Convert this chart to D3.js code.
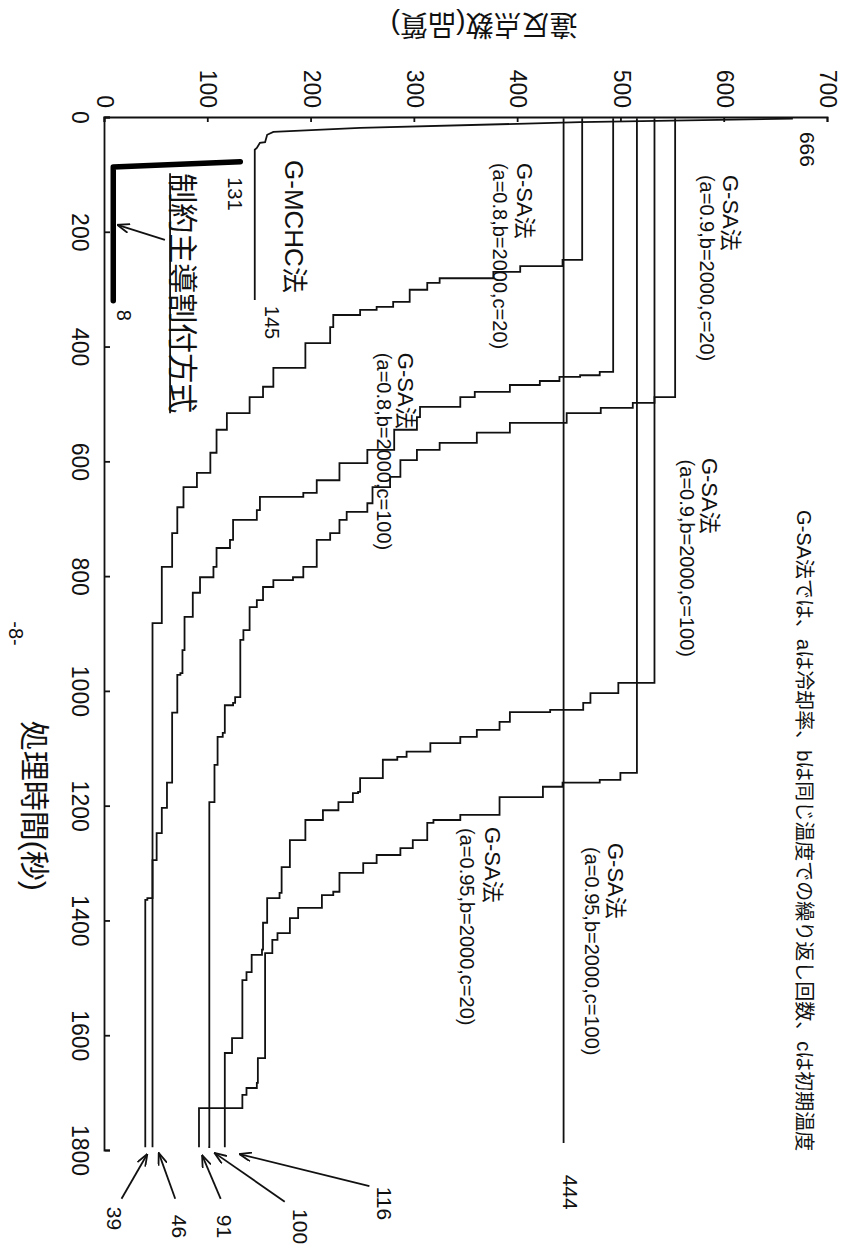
<!DOCTYPE html>
<html>
<head>
<meta charset="utf-8">
<script src="https://cdn.jsdelivr.net/npm/d3@7"></script>
<style>
  body { margin: 0; background: #fff; }
  svg { display: block; }
  text { font-family: "Liberation Sans", "Noto Sans CJK JP", sans-serif; fill: #111; }
</style>
</head>
<body>
<div id="graph"></div>
<script>
// tick labels
const timeTicks = [0, 200, 400, 600, 800, 1000, 1200, 1400, 1600, 1800];
const violationTicks = [0, 100, 200, 300, 400, 500, 600, 700];

// series: [time (s), violations] — value holds until the next point
const gmchc = [[3, 666], [9, 460], [19, 247], [26, 163], [31, 157], [44, 155], [45, 150], [54, 147], [57, 145], [319, 145]];
const constraintLed = [[78, 131], [87, 8], [320, 8]];
const sa08c20 = [[2, 462], [249, 443], [260, 402], [270, 376], [281, 324], [289, 312], [301, 295], [322, 279], [331, 263],
  [336, 247], [345, 221], [366, 218], [394, 194], [437, 163], [470, 153], [488, 140], [516, 118], [545, 108], [585, 102],
  [620, 89], [645, 76], [680, 70], [725, 65], [784, 55], [882, 46], [1795, 46]];
const sa08c100 = [[2, 492], [444, 479], [450, 460], [453, 440], [460, 421], [467, 392], [479, 358], [488, 344], [505, 305],
  [523, 302], [545, 280], [580, 254], [603, 227], [633, 205], [655, 192], [662, 150], [685, 147], [702, 124], [737, 121],
  [751, 108], [784, 105], [802, 92], [829, 85], [871, 77], [929, 75], [969, 73], [972, 70], [1038, 65], [1160, 60],
  [1204, 55], [1248, 50], [1295, 46], [1361, 41], [1364, 39], [1795, 39]];
const sa09c20 = [[2, 552], [488, 532], [498, 511], [507, 480], [516, 447], [533, 392], [550, 360], [568, 324], [580, 302],
  [598, 286], [627, 276], [645, 259], [673, 254], [688, 234], [702, 227], [725, 218], [737, 205], [784, 192], [802, 182],
  [807, 163], [819, 153], [842, 147], [854, 140], [894, 134], [911, 131], [1011, 126], [1021, 124], [1025, 116],
  [1073, 114], [1080, 109], [1129, 106], [1194, 101], [1795, 100]];
const sa09c100 = [[2, 532], [986, 497], [1004, 470], [1021, 463], [1033, 431], [1037, 392], [1054, 382], [1068, 360],
  [1080, 344], [1091, 315], [1106, 292], [1115, 283], [1120, 269], [1152, 247], [1176, 245], [1178, 240], [1194, 226],
  [1208, 211], [1225, 194], [1260, 179], [1307, 171], [1352, 169], [1361, 157], [1404, 153], [1451, 152], [1460, 142],
  [1490, 137], [1504, 133], [1605, 123], [1631, 116], [1795, 116]];
const sa095c20 = [[2, 515], [1143, 499], [1155, 479], [1160, 443], [1167, 424], [1185, 382], [1216, 344], [1225, 318],
  [1230, 312], [1260, 298], [1274, 286], [1286, 263], [1300, 250], [1317, 227], [1350, 221], [1356, 210], [1378, 187],
  [1396, 179], [1422, 167], [1434, 162], [1457, 155], [1640, 148], [1683, 147], [1692, 137], [1704, 133], [1727, 91],
  [1795, 91]];
const sa095c100 = [[2, 444], [1788, 444]];

const W = 843, H = 1247;
const svg = d3.select('#graph').append('svg')
  .attr('width', W)
  .attr('height', H);

// the page is printed sideways: draw landscape, then turn it 90° clockwise
const g = svg.append('g').attr('transform', `translate(${W},0) rotate(90)`);

const x = d3.scaleLinear().domain([0, 1800]).range([117, 1150]);
const y = d3.scaleLinear().domain([0, 700]).range([738, 15]);

// axes, ticks pointing inward
const xAxis = g.append('g')
  .attr('transform', `translate(0,${y(0)})`)
  .call(d3.axisBottom(x).tickValues(timeTicks).tickSize(-5).tickPadding(17).tickFormat(d3.format('d')));
const yAxis = g.append('g')
  .attr('transform', `translate(${x(0)},0)`)
  .call(d3.axisLeft(y).tickValues(violationTicks).tickSize(-5).tickPadding(9).tickFormat(d3.format('d')));
[xAxis, yAxis].forEach(a => {
  a.selectAll('path, line').attr('stroke', '#111').attr('stroke-width', 1.8);
  a.selectAll('text').attr('font-size', 23).attr('font-family', null);
});

// arrow head
svg.append('defs').append('marker')
  .attr('id', 'head')
  .attr('viewBox', '0 0 12 10')
  .attr('refX', 12).attr('refY', 5)
  .attr('markerWidth', 13).attr('markerHeight', 10)
  .attr('markerUnits', 'userSpaceOnUse')
  .attr('orient', 'auto')
  .append('path')
  .attr('d', 'M0,0.5L12,5L0,9.5')
  .attr('fill', 'none')
  .attr('stroke', '#111')
  .attr('stroke-width', 1.8);

// curves
const step = d3.line().x(d => x(d[0])).y(d => y(d[1])).curve(d3.curveStepAfter);
const straight = d3.line().x(d => x(d[0])).y(d => y(d[1]));

[sa08c20, sa08c100, sa09c20, sa09c100, sa095c20, sa095c100].forEach(s => {
  g.append('path').datum(s)
    .attr('d', step)
    .attr('fill', 'none')
    .attr('stroke', '#111')
    .attr('stroke-width', 1.8);
});
g.append('path').datum(gmchc)
  .attr('d', straight)
  .attr('fill', 'none')
  .attr('stroke', '#111')
  .attr('stroke-width', 1.8);
g.append('path').datum(constraintLed)
  .attr('d', straight)
  .attr('fill', 'none')
  .attr('stroke', '#000')
  .attr('stroke-width', 5.5)
  .attr('stroke-linecap', 'round')
  .attr('stroke-linejoin', 'round');

// text helper, placed in data units
function note(t, v, str, size) {
  return g.append('text')
    .attr('x', x(t)).attr('y', y(v))
    .attr('font-size', size)
    .text(str);
}

// series labels
note(101, 598, 'G-SA法', 22); note(101, 576, '(a=0.9,b=2000,c=20)', 20);
note(80, 399, 'G-SA法', 22); note(80, 376, '(a=0.8,b=2000,c=20)', 20);
note(594, 578, 'G-SA法', 22); note(597, 557, '(a=0.9,b=2000,c=100)', 20);
note(411, 284, 'G-SA法', 22); note(411, 263, '(a=0.8,b=2000,c=100)', 20);
note(1265, 487, 'G-SA法', 22); note(1272, 465, '(a=0.95,b=2000,c=100)', 20);
note(1237, 368, 'G-SA法', 22); note(1239, 344, '(a=0.95,b=2000,c=20)', 20);
note(75, 174, 'G-MCHC法', 26);
note(98, 65, '制約主導割付方式', 30);
g.append('line')
  .attr('x1', x(98)).attr('x2', x(516))
  .attr('y1', y(63)).attr('y2', y(63))
  .attr('stroke', '#111').attr('stroke-width', 1.8);
note(685, 670, 'G-SA法では、aは冷却率、bは同じ温度での繰り返し回数、cは初期温度', 20);

// value labels
note(26, 673, '666', 21);
note(1843, 443, '444', 21);
note(105, 119, '131', 20);
note(329, 155, '145', 20);
note(336, 12, '8', 20);
note(1899, 2, '39', 21);
note(1913, 65, '46', 21);
note(1913, 108, '91', 21);
note(1903, 182, '100', 21);
note(1864, 263, '116', 21);

// arrows: [tail, head]
const arrows = [
  [[1885, 16], [1807, 41]],
  [[1885, 68], [1805, 52]],
  [[1885, 112], [1809, 94]],
  [[1890, 174], [1805, 106]],
  [[1863, 256], [1807, 130]],
  [[214, 58], [188, 12]]
];
arrows.forEach(a => {
  g.append('line')
    .attr('x1', x(a[0][0])).attr('y1', y(a[0][1]))
    .attr('x2', x(a[1][0])).attr('y2', y(a[1][1]))
    .attr('stroke', '#111').attr('stroke-width', 1.8)
    .attr('marker-end', 'url(#head)');
});

// axis titles
g.append('text')
  .attr('transform', `translate(${x(0) - 102},${y(367)}) rotate(90)`)
  .attr('text-anchor', 'middle')
  .attr('font-size', 28)
  .text('違反点数(品質)');
g.append('text')
  .attr('x', x(1200)).attr('y', y(0) + 81)
  .attr('text-anchor', 'middle')
  .attr('font-size', 30)
  .text('処理時間(秒)');

// page number
g.append('text')
  .attr('x', x(900)).attr('y', y(0) + 96)
  .attr('text-anchor', 'middle')
  .attr('font-size', 20)
  .text('-8-');
</script>
</body>
</html>
